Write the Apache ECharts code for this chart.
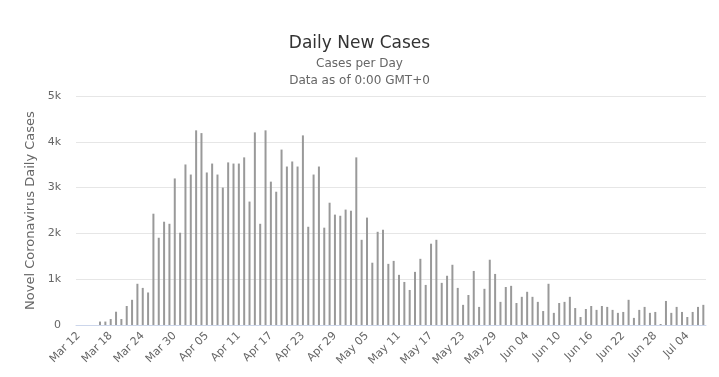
<!DOCTYPE html>
<html>
<head>
<meta charset="utf-8">
<script src="https://cdn.jsdelivr.net/npm/echarts@6/dist/echarts.min.js"></script>
<style>
  html, body { margin: 0; padding: 0; background: #fff; }
  #chart { width: 719px; height: 377px; }
</style>
</head>
<body>
<div id="chart"></div>
<script>
// 日期：Mar 12 - Jul 07
const days = [
  'Mar 12', 'Mar 13', 'Mar 14', 'Mar 15', 'Mar 16', 'Mar 17', 'Mar 18', 'Mar 19', 'Mar 20', 'Mar 21',
  'Mar 22', 'Mar 23', 'Mar 24', 'Mar 25', 'Mar 26', 'Mar 27', 'Mar 28', 'Mar 29', 'Mar 30', 'Mar 31',
  'Apr 01', 'Apr 02', 'Apr 03', 'Apr 04', 'Apr 05', 'Apr 06', 'Apr 07', 'Apr 08', 'Apr 09', 'Apr 10',
  'Apr 11', 'Apr 12', 'Apr 13', 'Apr 14', 'Apr 15', 'Apr 16', 'Apr 17', 'Apr 18', 'Apr 19', 'Apr 20',
  'Apr 21', 'Apr 22', 'Apr 23', 'Apr 24', 'Apr 25', 'Apr 26', 'Apr 27', 'Apr 28', 'Apr 29', 'Apr 30',
  'May 01', 'May 02', 'May 03', 'May 04', 'May 05', 'May 06', 'May 07', 'May 08', 'May 09', 'May 10',
  'May 11', 'May 12', 'May 13', 'May 14', 'May 15', 'May 16', 'May 17', 'May 18', 'May 19', 'May 20',
  'May 21', 'May 22', 'May 23', 'May 24', 'May 25', 'May 26', 'May 27', 'May 28', 'May 29', 'May 30',
  'May 31', 'Jun 01', 'Jun 02', 'Jun 03', 'Jun 04', 'Jun 05', 'Jun 06', 'Jun 07', 'Jun 08', 'Jun 09',
  'Jun 10', 'Jun 11', 'Jun 12', 'Jun 13', 'Jun 14', 'Jun 15', 'Jun 16', 'Jun 17', 'Jun 18', 'Jun 19',
  'Jun 20', 'Jun 21', 'Jun 22', 'Jun 23', 'Jun 24', 'Jun 25', 'Jun 26', 'Jun 27', 'Jun 28', 'Jun 29',
  'Jun 30', 'Jul 01', 'Jul 02', 'Jul 03', 'Jul 04', 'Jul 05', 'Jul 06', 'Jul 07'
]

// 每日新增病例
const newCases = [
  0, 0, 0, 0, 75, 75, 130, 290, 130, 415,
  550, 900, 810, 710, 2430, 1905, 2255, 2210, 3200, 2015,
  3505, 3285, 4250, 4190, 3330, 3525, 3285, 3000, 3550, 3525,
  3525, 3660, 2695, 4205, 2210, 4250, 3130, 2910, 3830, 3460,
  3570, 3460, 4140, 2145, 3285, 3460, 2125, 2670, 2410, 2385,
  2520, 2495, 3660, 1860, 2345, 1360, 2035, 2080, 1335, 1400,
  1095, 940, 765, 1160, 1445, 875, 1775, 1860, 920, 1075,
  1315, 810, 440, 655, 1180, 395, 790, 1425, 1115, 505,
  830, 855, 480, 615, 725, 615, 505, 305, 900, 265,
  480, 505, 615, 370, 175, 350, 415, 330, 415, 395,
  330, 265, 285, 550, 155, 330, 395, 265, 285, 22,
  525, 265, 395, 285, 175, 285, 395, 440
]

const yTicks = [0, 1000, 2000, 3000, 4000, 5000]

let myChart = echarts.init(document.getElementById('chart'))
let option = {
  animation: false,
  textStyle: { fontFamily: 'DejaVu Sans' },
  title: {
    text: 'Daily New Cases',
    subtext: 'Cases per Day\nData as of 0:00 GMT+0',
    left: 'center',
    top: 30,
    itemGap: 3,
    textStyle: { fontSize: 17, fontWeight: 'normal', color: '#333' },
    subtextStyle: { fontSize: 12, color: '#666', lineHeight: 17, align: 'center' }
  },
  grid: {
    top: 96,
    left: 76,
    right: 13,
    bottom: 52
  },
  xAxis: {
    type: 'category',
    data: days,
    axisLine: { lineStyle: { color: '#ccd6eb' } },
    axisTick: { show: false },
    axisLabel: {
      interval: 5,
      rotate: 45,
      fontSize: 11,
      color: '#666',
      margin: 9
    }
  },
  yAxis: {
    type: 'value',
    min: yTicks[0],
    max: yTicks[yTicks.length - 1],
    interval: 1000,
    name: 'Novel Coronavirus Daily Cases',
    nameLocation: 'middle',
    nameGap: 34,
    nameTextStyle: { fontSize: 13, color: '#666' },
    axisLabel: {
      fontSize: 11,
      color: '#666',
      margin: 15,
      formatter: function (v) {
        return v === 0 ? '0' : (v / 1000) + 'k'
      }
    },
    splitLine: { lineStyle: { color: '#e6e6e6' } }
  },
  series: [
    {
      type: 'bar',
      data: newCases,
      barWidth: 2,
      itemStyle: { color: '#999999' }
    }
  ]
}
myChart.setOption(option)
</script>
</body>
</html>
